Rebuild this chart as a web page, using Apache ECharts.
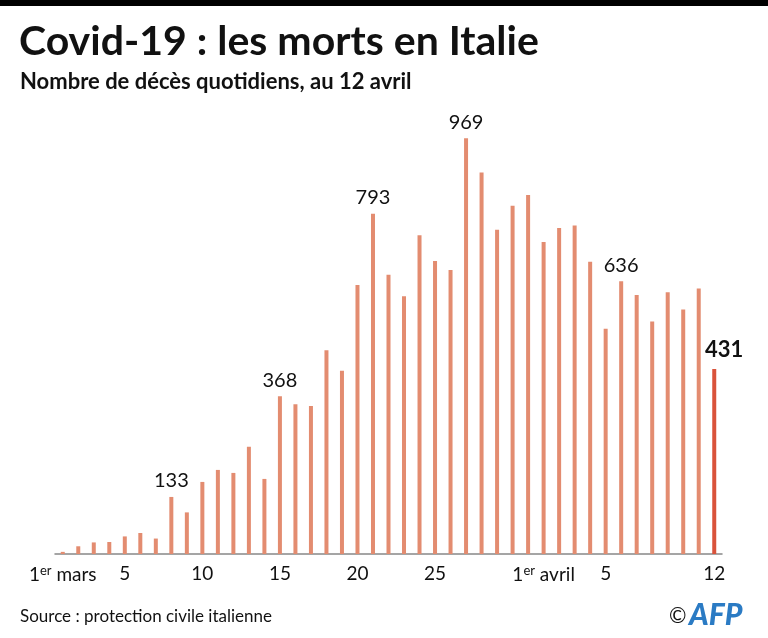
<!DOCTYPE html>
<html>
<head>
<meta charset="utf-8">
<script src="https://cdn.jsdelivr.net/npm/echarts@6/dist/echarts.min.js"></script>
<style>html,body{margin:0;padding:0;background:#fff;}#c{width:768px;height:638px;}</style>
</head>
<body>
<div id="c"></div>
<script>
const categories = ['1','2','3','4','5','6','7','8','9','10','11','12','13','14','15','16','17','18','19','20','21','22','23','24','25','26','27','28','29','30','31','1','2','3','4','5','6','7','8','9','10','11','12'];
const deaths = [5,18,27,28,41,49,36,133,97,168,196,189,250,175,368,349,345,475,427,627,793,651,601,743,683,662,969,889,756,812,837,727,760,766,681,525,636,604,542,610,570,619,431];
const tickLabels = {0:'{n|1}{s|er}{n| mars}',4:'5',9:'10',14:'15',19:'20',24:'25',31:'{n|1}{s|er}{n| avril}',35:'5',42:'12'};
const labelled = [7,14,20,26,36];

const chart = echarts.init(document.getElementById('c'));
const FONT = 'Lato';
const data = deaths.map((v,i)=>{
  const d = {value:v};
  if (i === deaths.length-1) {
    d.itemStyle = {color:'#d9533b'};
    d.label = {show:true, position:'top', offset:[10,-3], fontSize:22, fontWeight:'bold', color:'#111', fontFamily:FONT, formatter:'{c}'};
  } else if (labelled.includes(i)) {
    d.label = {show:true, position:'top', distance:6, fontSize:20, color:'#111', fontFamily:FONT, formatter:'{c}'};
  }
  return d;
});
chart.setOption({
  animation:false,
  grid:{left:55, width:667, top:125, bottom:84},
  xAxis:{type:'category', data:categories, boundaryGap:true,
    axisLine:{lineStyle:{color:'#888', width:1.5}}, axisTick:{show:false},
    axisLabel:{interval:0, margin:10, fontFamily:FONT, fontSize:19, color:'#111',
      formatter:(v,i)=> tickLabels[i] || '',
      rich:{n:{fontSize:19, fontFamily:FONT, color:'#111'}, s:{fontSize:13, fontFamily:FONT, color:'#111', verticalAlign:'top', padding:[0,0,8,0]}}}},
  yAxis:{type:'value', min:0, max:1000, show:false, splitLine:{show:false}},
  series:[{type:'bar', data:data, barWidth:4, itemStyle:{color:'#e38c70'}}],
  graphic:[
    {type:'rect', left:0, top:0, shape:{width:768, height:6}, style:{fill:'#000'}},
    {type:'text', left:19, top:21, style:{text:'Covid-19 : les morts en Italie', font:'bold 41px Lato', fill:'#111'}},
    {type:'text', left:20, top:71, style:{text:'Nombre de décès quotidiens, au 12 avril', font:'bold 22px Lato', fill:'#111'}},
    {type:'text', left:20, top:608, style:{text:'Source : protection civile italienne', font:'17px Lato', fill:'#111'}},
    {type:'text', left:669, top:606, style:{text:'©', font:'21px Lato', fill:'#111'}},
    {type:'text', left:689, top:600, style:{text:'AFP', font:'italic 900 30px Lato', fill:'#2b7bc4'}}
  ]
});
</script>
</body>
</html>
